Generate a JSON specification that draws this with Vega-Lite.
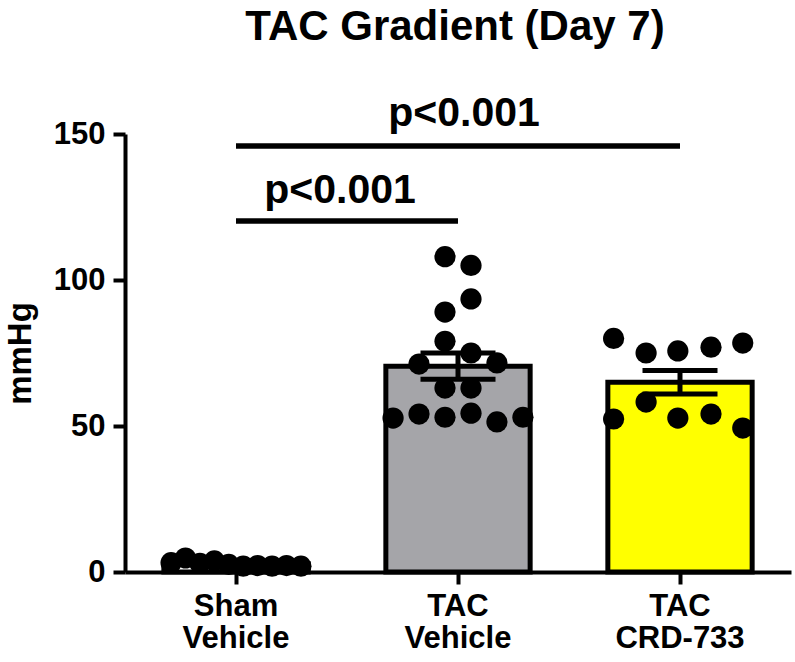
{
  "$schema": "https://vega.github.io/schema/vega-lite/v6.json",
  "autosize": {"type": "none"},
  "width": 666,
  "height": 438,
  "padding": {"left": 125, "top": 134, "right": 4, "bottom": 90},
  "background": "white",
  "title": {
    "text": "TAC Gradient (Day 7)",
    "font": "Liberation Sans",
    "fontSize": 42,
    "fontWeight": "bold",
    "color": "black",
    "anchor": "middle",
    "offset": 44,
    "dx": -3
  },
  "resolve": {"scale": {"xOffset": "independent"}},
  "config": {
    "view": {"stroke": null},
    "axis": {
      "labelFont": "Liberation Sans",
      "titleFont": "Liberation Sans",
      "labelFontWeight": "bold",
      "titleFontWeight": "bold",
      "labelColor": "black",
      "titleColor": "black",
      "domainColor": "black",
      "tickColor": "black",
      "domainWidth": 4,
      "tickWidth": 4,
      "grid": false
    }
  },
  "datasets": {
    "summary": [
      {"group": "Sham Vehicle", "mean": 2.8, "sem": 0.3},
      {"group": "TAC Vehicle", "mean": 70.5, "sem": 4.5},
      {"group": "TAC CRD-733", "mean": 65, "sem": 4.0}
    ],
    "points": [
      {"group": "Sham Vehicle", "dx": -0.45, "value": 3.2},
      {"group": "Sham Vehicle", "dx": -0.35, "value": 4.8},
      {"group": "Sham Vehicle", "dx": -0.25, "value": 3.0},
      {"group": "Sham Vehicle", "dx": -0.15, "value": 3.8},
      {"group": "Sham Vehicle", "dx": -0.05, "value": 2.6},
      {"group": "Sham Vehicle", "dx": 0.05, "value": 2.0},
      {"group": "Sham Vehicle", "dx": 0.15, "value": 2.2},
      {"group": "Sham Vehicle", "dx": 0.25, "value": 2.0},
      {"group": "Sham Vehicle", "dx": 0.35, "value": 2.2},
      {"group": "Sham Vehicle", "dx": 0.45, "value": 2.0},
      {"group": "TAC Vehicle", "dx": -0.09, "value": 108},
      {"group": "TAC Vehicle", "dx": 0.09, "value": 105},
      {"group": "TAC Vehicle", "dx": 0.09, "value": 93.5},
      {"group": "TAC Vehicle", "dx": -0.09, "value": 89},
      {"group": "TAC Vehicle", "dx": -0.09, "value": 79},
      {"group": "TAC Vehicle", "dx": 0.09, "value": 75},
      {"group": "TAC Vehicle", "dx": -0.27, "value": 71.2},
      {"group": "TAC Vehicle", "dx": 0.27, "value": 71.6},
      {"group": "TAC Vehicle", "dx": -0.09, "value": 63},
      {"group": "TAC Vehicle", "dx": 0.09, "value": 63},
      {"group": "TAC Vehicle", "dx": -0.45, "value": 52.7},
      {"group": "TAC Vehicle", "dx": -0.27, "value": 54.1},
      {"group": "TAC Vehicle", "dx": -0.09, "value": 53},
      {"group": "TAC Vehicle", "dx": 0.09, "value": 54.4},
      {"group": "TAC Vehicle", "dx": 0.27, "value": 51.4},
      {"group": "TAC Vehicle", "dx": 0.45, "value": 53},
      {"group": "TAC CRD-733", "dx": -0.46, "value": 80},
      {"group": "TAC CRD-733", "dx": -0.235, "value": 75},
      {"group": "TAC CRD-733", "dx": -0.015, "value": 75.7},
      {"group": "TAC CRD-733", "dx": 0.215, "value": 77},
      {"group": "TAC CRD-733", "dx": 0.435, "value": 78.4},
      {"group": "TAC CRD-733", "dx": -0.235, "value": 58.2},
      {"group": "TAC CRD-733", "dx": -0.46, "value": 52.4},
      {"group": "TAC CRD-733", "dx": -0.015, "value": 52.7},
      {"group": "TAC CRD-733", "dx": 0.215, "value": 54.1},
      {"group": "TAC CRD-733", "dx": 0.435, "value": 49.3}
    ],
    "brackets": [
      {"from": "Sham Vehicle", "to": "TAC Vehicle", "mid": "Sham Vehicle", "level": 120.2, "label": "p<0.001"},
      {"from": "Sham Vehicle", "to": "TAC CRD-733", "mid": "TAC Vehicle", "level": 145.9, "label": "p<0.001"}
    ]
  },
  "encoding": {
    "x": {
      "field": "group",
      "type": "nominal",
      "sort": ["Sham Vehicle", "TAC Vehicle", "TAC CRD-733"],
      "scale": {"domain": ["Sham Vehicle", "TAC Vehicle", "TAC CRD-733"], "paddingInner": 0.35, "paddingOuter": 0.175},
      "axis": {
        "title": null,
        "labelAngle": 0,
        "labelFontSize": 31,
        "labelExpr": "split(datum.label, ' ')",
        "labelLineHeight": 32,
        "labelPadding": 7,
        "tickSize": 12,
        "labelBaseline": "top"
      }
    }
  },
  "layer": [
    {
      "data": {"name": "summary"},
      "mark": {"type": "bar", "stroke": "black", "strokeWidth": 5, "width": {"band": 1}},
      "encoding": {
        "y": {
          "field": "mean",
          "type": "quantitative",
          "scale": {"domain": [0, 150], "nice": false},
          "axis": {
            "title": "mmHg",
            "titleFontSize": 33,
            "titlePadding": 16,
            "values": [0, 50, 100, 150],
            "labelFontSize": 31,
            "labelPadding": 8,
            "tickSize": 12
          }
        },
        "color": {
          "field": "group",
          "type": "nominal",
          "scale": {"domain": ["Sham Vehicle", "TAC Vehicle", "TAC CRD-733"], "range": ["#FFFFFF", "#A5A5A9", "#FFFF00"]},
          "legend": null
        }
      }
    },
    {
      "data": {"name": "points"},
      "mark": {"type": "circle", "color": "black", "opacity": 1, "size": 450},
      "encoding": {
        "xOffset": {"field": "dx", "type": "quantitative", "scale": {"domain": [-0.5, 0.5]}},
        "y": {"field": "value", "type": "quantitative"}
      }
    },
    {
      "data": {"name": "summary"},
      "transform": [
        {"calculate": "datum.mean - datum.sem", "as": "lo"},
        {"calculate": "datum.mean + datum.sem", "as": "hi"}
      ],
      "layer": [
        {
          "mark": {"type": "rule", "color": "black", "opacity": 1, "strokeWidth": 5},
          "encoding": {
            "y": {"field": "lo", "type": "quantitative"},
            "y2": {"field": "hi"}
          }
        },
        {
          "mark": {"type": "tick", "color": "black", "opacity": 1, "size": 75, "thickness": 5},
          "encoding": {"y": {"field": "lo", "type": "quantitative"}}
        },
        {
          "mark": {"type": "tick", "color": "black", "opacity": 1, "size": 75, "thickness": 5},
          "encoding": {"y": {"field": "hi", "type": "quantitative"}}
        }
      ]
    },
    {
      "data": {"name": "brackets"},
      "mark": {"type": "rule", "color": "black", "opacity": 1, "strokeWidth": 5.5},
      "encoding": {
        "x": {"field": "from", "type": "nominal"},
        "x2": {"field": "to"},
        "y": {"field": "level", "type": "quantitative"}
      }
    },
    {
      "data": {"name": "brackets"},
      "transform": [{"filter": "datum.level > 130"}],
      "mark": {"type": "text", "font": "Liberation Sans", "fontSize": 41, "fontWeight": "bold", "color": "black", "baseline": "alphabetic", "align": "center", "dy": -20, "dx": 6},
      "encoding": {
        "x": {"field": "mid", "type": "nominal"},
        "y": {"field": "level", "type": "quantitative"},
        "text": {"field": "label"}
      }
    },
    {
      "data": {"name": "brackets"},
      "transform": [{"filter": "datum.level < 130"}],
      "mark": {"type": "text", "font": "Liberation Sans", "fontSize": 41, "fontWeight": "bold", "color": "black", "baseline": "alphabetic", "align": "center", "dy": -18, "dx": 104},
      "encoding": {
        "x": {"field": "mid", "type": "nominal"},
        "y": {"field": "level", "type": "quantitative"},
        "text": {"field": "label"}
      }
    }
  ]
}
